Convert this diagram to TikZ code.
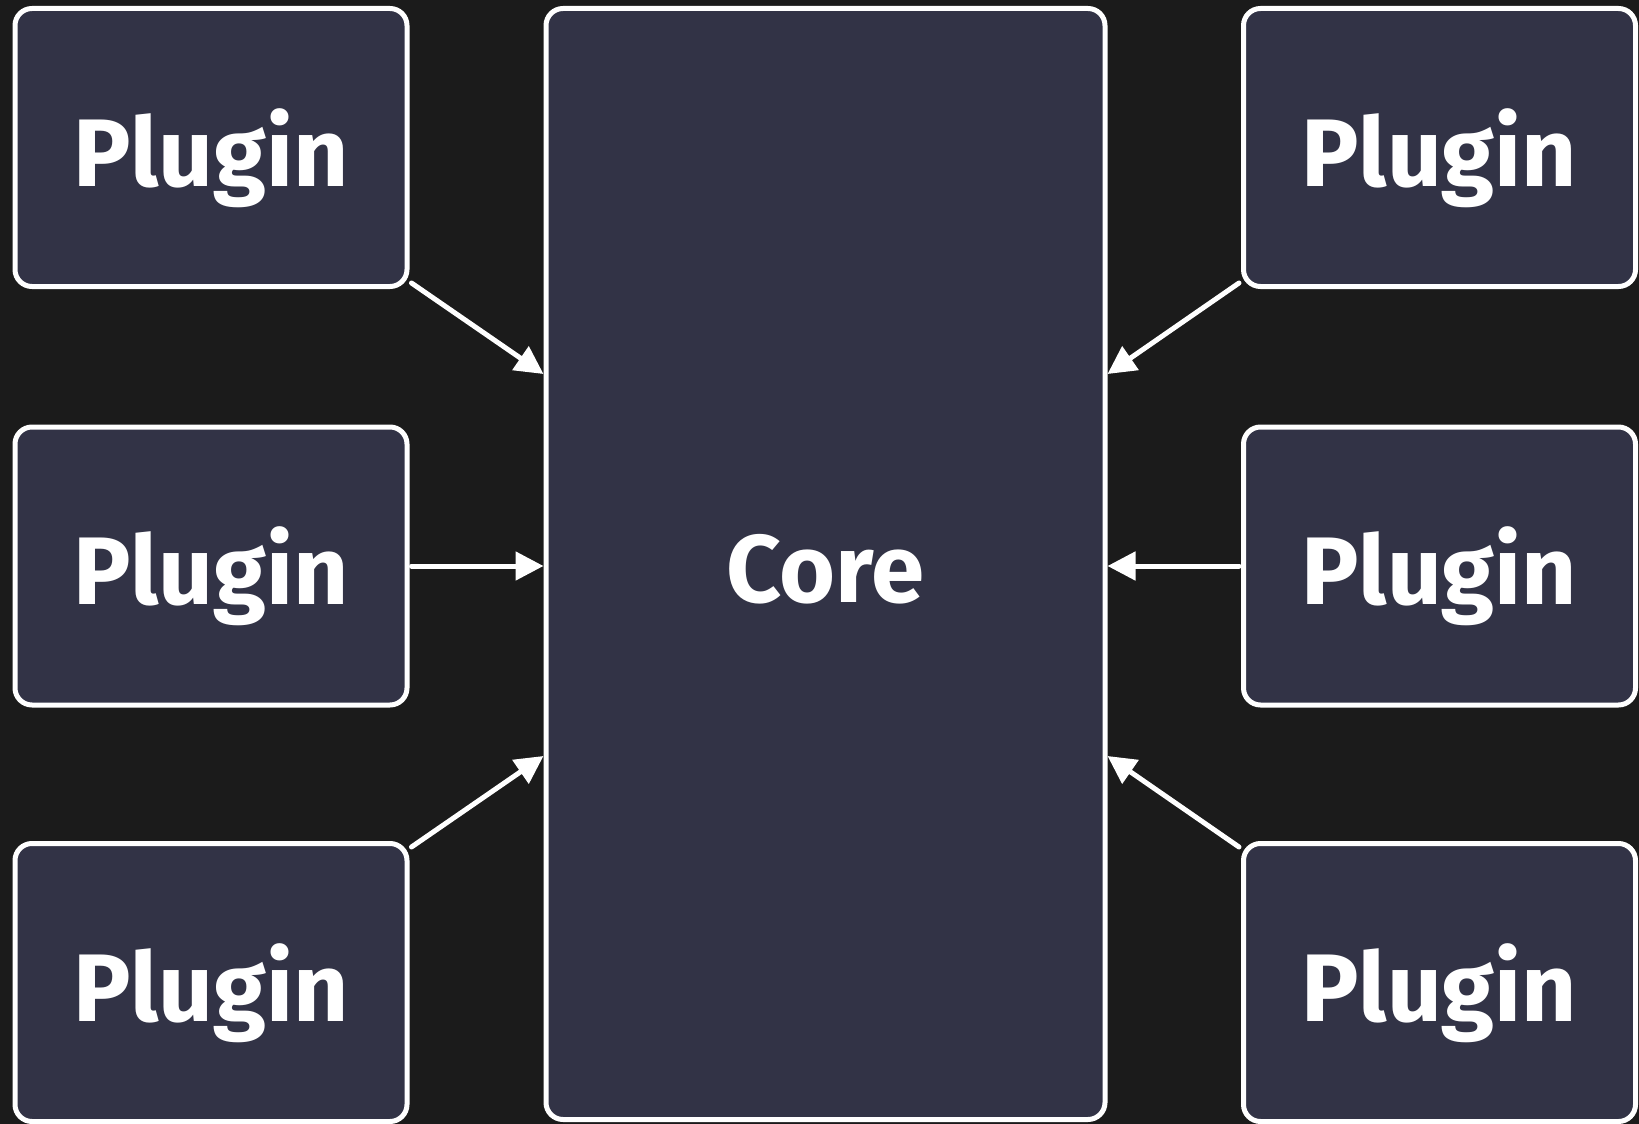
\documentclass[tikz,border=0pt]{standalone}
\usepackage{fontspec}
\setmainfont{Fira Sans}
\usetikzlibrary{arrows.meta}
\definecolor{bg}{HTML}{1B1B1B}
\definecolor{boxfill}{HTML}{323346}
\begin{document}
\begin{tikzpicture}[x=1pt,y=-1pt,
  box/.style={draw=white, line width=5pt, fill=boxfill, rounded corners=17pt, inner sep=0pt, text=white, text height=77pt, text depth=0pt, font=\fontsize{96}{110}\selectfont\bfseries},
  plugin/.style={box, minimum width=392pt, minimum height=278pt},
  arr/.style={draw=white, line width=5pt, line cap=round, -{Triangle[length=28pt,width=28pt]}}]
\fill[bg] (0,0) rectangle (1639,1124);
\useasboundingbox (0,0) rectangle (1639,1124);
\node[box, minimum width=559pt, minimum height=1111pt] (core) at (825.5,564) {Core};
\node[plugin] (l1) at (211,147.5) {Plugin};
\node[plugin] (l2) at (211,566) {Plugin};
\node[plugin] (l3) at (211,982.5) {Plugin};
\node[plugin] (r1) at (1439.5,147.5) {Plugin};
\node[plugin] (r2) at (1439.5,566) {Plugin};
\node[plugin] (r3) at (1439.5,982.5) {Plugin};
\draw[arr] ([shift={(2,-6)}]l1.south east) -- ([shift={(0,-190)}]core.west);
\draw[arr] ([shift={(2,0)}]l2.east) -- (core.west |- l2.east);
\draw[arr] ([shift={(2,6)}]l3.north east) -- ([shift={(0,192)}]core.west);
\draw[arr] ([shift={(-2,-6)}]r1.south west) -- ([shift={(0,-190)}]core.east);
\draw[arr] ([shift={(-2,0)}]r2.west) -- (core.east |- r2.west);
\draw[arr] ([shift={(-2,6)}]r3.north west) -- ([shift={(0,192)}]core.east);
\end{tikzpicture}
\end{document}
